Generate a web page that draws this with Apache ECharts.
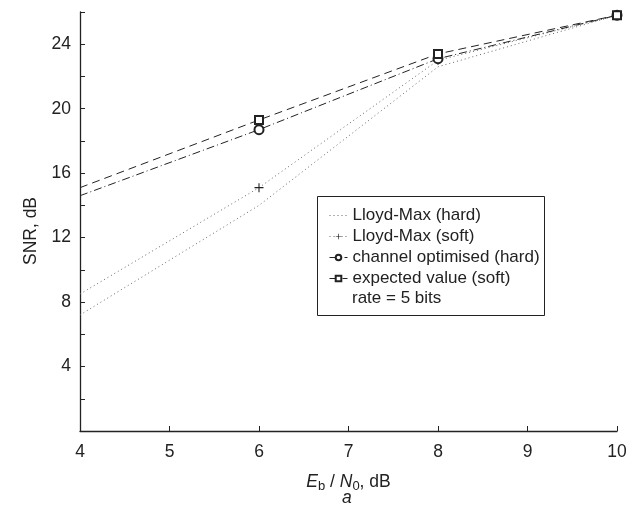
<!DOCTYPE html>
<html><head><meta charset="utf-8">
<script src="https://cdn.jsdelivr.net/npm/echarts@6/dist/echarts.min.js"></script>
<style>html,body{margin:0;padding:0;background:#fff}#c{width:640px;height:509px}</style>
</head><body><div id="c"></div>
<script>
const xValues = [4, 6, 8, 10];
const lloydMaxHard = [7.2, 14.0, 22.6, 25.8];
const lloydMaxSoft = [8.5, 15.1, 23.0, 25.8];
const channelOptHard = [14.6, 18.7, 23.1, 25.8];
const expectedSoft = [15.1, 19.3, 23.4, 25.8];
const yTicks = [4, 8, 12, 16, 20, 24];
const seriesNames = ['Lloyd-Max (hard)', 'Lloyd-Max (soft)', 'channel optimised (hard)', 'expected value (soft)'];
const noteText = 'rate = 5 bits';

const FONT = 'Liberation Sans, Arial, sans-serif';
const FS = 17.5;
const LFS = 17;
const chart = echarts.init(document.getElementById('c'));
function pts(vals) {
  return vals.map((v, i) => i === 0 ? {value: [xValues[i], v], symbol: 'none'} : [xValues[i], v]);
}
const plus = 'path://M4.4,0H5.6V4.4H10V5.6H5.6V10H4.4V5.6H0V4.4H4.4Z';
chart.setOption({
  animation: false,
  grid: {left: 80, right: 23, top: 12, bottom: 78},
  xAxis: {
    type: 'value', min: 4, max: 10, interval: 1,
    axisLine: {lineStyle: {color: '#222', width: 1.3}},
    axisTick: {inside: true, length: 5, lineStyle: {color: '#222'}},
    splitLine: {show: false},
    axisLabel: {color: '#222', fontSize: FS, fontFamily: FONT, margin: 12},
    name: '{i|E}{s|b}{t| / }{i|N}{s|0}{t|, dB}',
    nameLocation: 'middle', nameGap: 40,
    nameTextStyle: {
      rich: {
        i: {fontStyle: 'italic', fontSize: FS, fontFamily: FONT, color: '#222'},
        s: {fontSize: 13, fontFamily: FONT, color: '#222', verticalAlign: 'bottom', padding: [9, 0, 0, 0]},
        t: {fontSize: FS, fontFamily: FONT, color: '#222'}
      }
    }
  },
  yAxis: {
    type: 'value', min: 0, max: 26, interval: 2,
    axisLine: {lineStyle: {color: '#222', width: 1.3}},
    axisTick: {inside: true, length: 5, lineStyle: {color: '#222'}},
    splitLine: {show: false},
    axisLabel: {
      color: '#222', fontSize: FS, fontFamily: FONT, margin: 9,
      formatter: v => yTicks.includes(v) ? String(v) : ''
    }
  },
  legend: {
    orient: 'vertical', left: 324, top: 202, itemGap: 4, itemWidth: 18, itemHeight: 7,
    textStyle: {color: '#222', fontSize: LFS, fontFamily: FONT},
    lineStyle: {width: 1},
    itemStyle: {borderWidth: 1},
    data: [
      {name: seriesNames[0], itemStyle: {opacity: 0}},
      seriesNames[1], seriesNames[2], seriesNames[3]
    ]
  },
  graphic: [
    {type: 'rect', left: 315, top: 194, shape: {width: 227, height: 119}, style: {fill: 'none', stroke: '#222', lineWidth: 1}, z: 1},
    {type: 'text', left: 352, top: 290, style: {text: noteText, fill: '#222', font: LFS + 'px ' + FONT}},
    {type: 'text', left: 342, top: 489, style: {text: 'a', fill: '#222', font: 'italic ' + FS + 'px ' + FONT}},
    {type: 'text', x: 31, y: 231, rotation: Math.PI / 2,
      style: {text: 'SNR, dB', fill: '#222', font: FS + 'px ' + FONT, align: 'center', verticalAlign: 'middle'}}
  ],
  series: [
    {name: seriesNames[0], type: 'line', data: pts(lloydMaxHard), symbol: 'none',
      lineStyle: {color: '#666', width: 1, type: [1, 3]}, itemStyle: {color: '#666'}},
    {name: seriesNames[1], type: 'line', data: pts(lloydMaxSoft), symbol: plus, symbolSize: 9,
      lineStyle: {color: '#666', width: 1, type: [1, 3]}, itemStyle: {color: '#222'}},
    {name: seriesNames[2], type: 'line', data: pts(channelOptHard), symbol: 'emptyCircle', symbolSize: 9,
      lineStyle: {color: '#222', width: 1, type: [8, 3, 1, 3]}, itemStyle: {color: '#222', borderWidth: 1}},
    {name: seriesNames[3], type: 'line', data: pts(expectedSoft), symbol: 'emptyRect', symbolSize: 8,
      lineStyle: {color: '#222', width: 1, type: [8, 5]}, itemStyle: {color: '#222', borderWidth: 1}}
  ]
});
</script></body></html>
